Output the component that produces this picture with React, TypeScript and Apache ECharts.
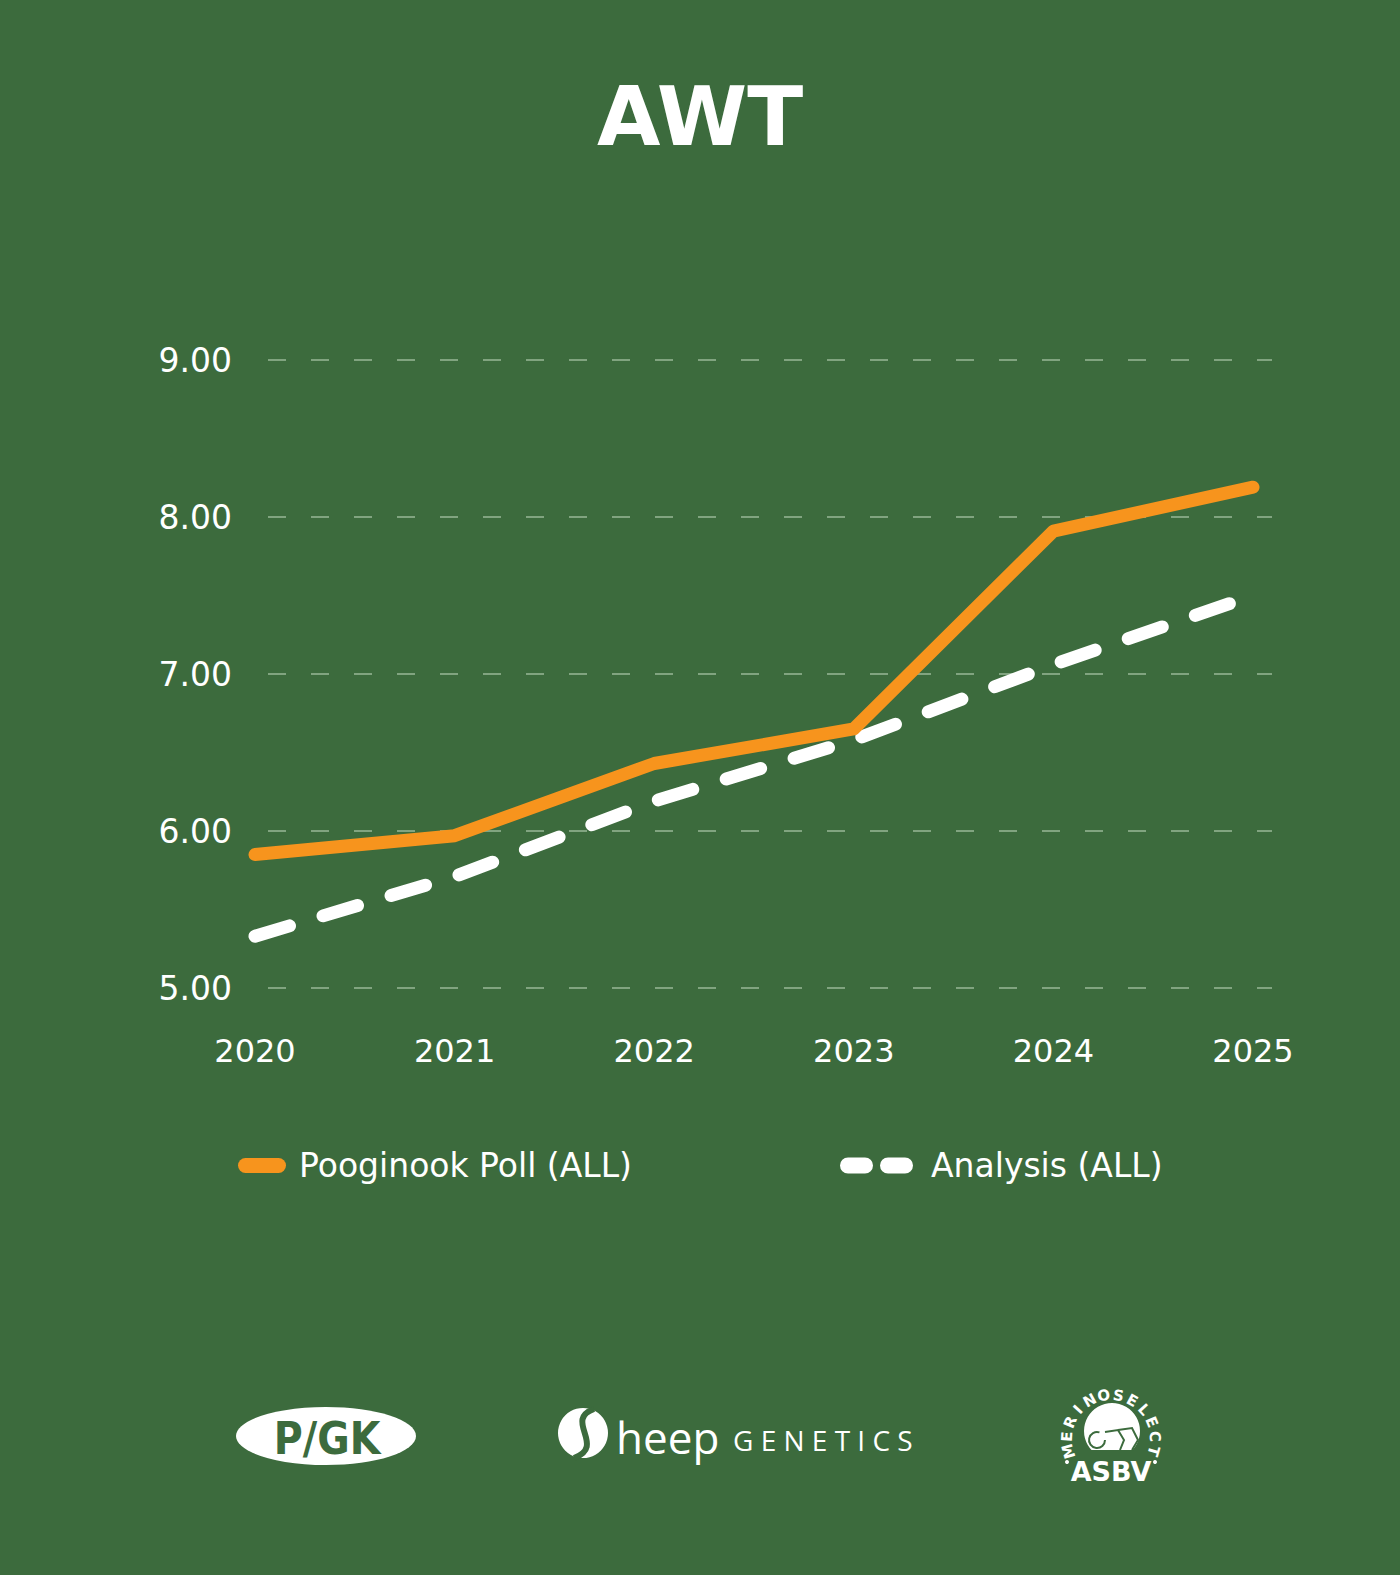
import React, { useEffect, useRef } from 'react';
import * as echarts from 'echarts';

const years = ['2020', '2021', '2022', '2023', '2024', '2025'];
const pooginookValues = [5.85, 5.97, 6.43, 6.65, 7.91, 8.19];
const analysisValues = [5.33, 5.71, 6.19, 6.58, 7.06, 7.5];
const yTicks = [5, 6, 7, 8, 9];

const BG = '#3c6b3d';
const ORANGE = '#f7941d';
const FONT = '"DejaVu Sans", "Noto Sans", sans-serif';

// letters of the round badge text
const badgeLetters = 'MERINOSELECT'.split('');

const App: React.FC = () => {
  const chartRef = useRef<HTMLDivElement>(null);

  useEffect(() => {
    document.body.style.margin = '0';
    document.body.style.background = BG;
    if (!chartRef.current) return;
    const chart = echarts.init(chartRef.current, undefined, { renderer: 'svg' });

    // badge letters around an arc
    const cx = 1111;
    const cy = 1439;
    const r = 44;
    const startA = 196;
    const endA = -16;
    const badge = badgeLetters.map((ch, i) => {
      const a = startA + ((endA - startA) * i) / (badgeLetters.length - 1);
      const rad = (a * Math.PI) / 180;
      return {
        type: 'text',
        x: cx + r * Math.cos(rad),
        y: cy - r * Math.sin(rad),
        rotation: ((a - 90) * Math.PI) / 180,
        style: {
          text: ch,
          fill: '#fff',
          font: 'bold 15px "DejaVu Sans", sans-serif',
          align: 'center',
          verticalAlign: 'middle',
        },
      };
    });

    const option: echarts.EChartsOption = {
      animation: false,
      backgroundColor: BG,
      title: {
        text: 'AWT',
        left: 'center',
        top: 70,
        textStyle: {
          color: '#fff',
          fontSize: 82,
          fontWeight: 'bold',
          fontFamily: '"DejaVu Sans", sans-serif',
        },
      },
      grid: [
        { left: 255, right: 147, top: 360, bottom: 587 },
        // grid that only carries the dashed guide lines
        { left: 268, right: 128, top: 360, bottom: 587 },
      ],
      legend: [
        {
          left: 233,
          top: 1144,
          itemWidth: 48,
          itemHeight: 15,
          icon: 'path://M7.5,0 H40.5 A7.5,7.5 0 0 1 40.5,15 H7.5 A7.5,7.5 0 0 1 7.5,0 Z',
          itemStyle: { borderWidth: 0 },
          data: ['Pooginook Poll (ALL)'],
          textStyle: {
            color: '#fff',
            fontSize: 33,
            fontFamily: FONT,
            padding: [0, 0, 0, 8],
          },
        },
        {
          left: 835,
          top: 1144,
          itemWidth: 73,
          itemHeight: 16,
          itemStyle: { borderWidth: 0 },
          data: [
            {
              name: 'Analysis (ALL)',
              icon: 'path://M8,0 H25 A8,8 0 0 1 25,16 H8 A8,8 0 0 1 8,0 Z M48,0 H65 A8,8 0 0 1 65,16 H48 A8,8 0 0 1 48,0 Z',
            },
          ],
          textStyle: {
            color: '#fff',
            fontSize: 33,
            fontFamily: FONT,
            padding: [0, 0, 0, 13],
          },
        },
      ],
      xAxis: [
        {
          type: 'category',
          data: years,
          boundaryGap: false,
          axisLine: { show: false },
          axisTick: { show: false },
          axisLabel: {
            color: '#fff',
            fontSize: 32,
            fontFamily: FONT,
            margin: 47,
          },
        },
        { type: 'category', gridIndex: 1, data: years, show: false },
      ],
      yAxis: [
        {
          type: 'value',
          min: yTicks[0],
          max: yTicks[yTicks.length - 1],
          interval: 1,
          axisLine: { show: false },
          axisTick: { show: false },
          axisLabel: {
            color: '#fff',
            fontSize: 33,
            fontFamily: FONT,
            margin: 23,
            formatter: (v: number) => v.toFixed(2),
          },
          splitLine: { show: false },
        },
        {
          type: 'value',
          gridIndex: 1,
          min: yTicks[0],
          max: yTicks[yTicks.length - 1],
          interval: 1,
          axisLine: { show: false },
          axisTick: { show: false },
          axisLabel: { show: false },
          splitLine: {
            lineStyle: {
              color: 'rgba(230,245,225,0.55)',
              width: 1.5,
              type: [18, 25],
            },
          },
        },
      ],
      series: [
        {
          name: 'Analysis (ALL)',
          type: 'line',
          data: analysisValues,
          symbol: 'none',
          color: '#fff',
          lineStyle: {
            color: '#fff',
            width: 13,
            type: [36, 35],
            cap: 'round',
            join: 'round',
          },
          z: 2,
        },
        {
          name: 'Pooginook Poll (ALL)',
          type: 'line',
          data: pooginookValues,
          symbol: 'none',
          color: ORANGE,
          lineStyle: {
            color: ORANGE,
            width: 13,
            cap: 'round',
            join: 'round',
          },
          z: 3,
        },
      ],
      graphic: [
        // P/GK logo
        {
          type: 'ellipse',
          shape: { cx: 326, cy: 1436, rx: 90, ry: 29 },
          style: { fill: '#fff' },
        },
        {
          type: 'text',
          x: 327,
          y: 1438,
          style: {
            text: 'P/GK',
            fill: BG,
            font: 'bold 44px "Liberation Sans Narrow", "DejaVu Sans Condensed", "Noto Sans", sans-serif',
            align: 'center',
            verticalAlign: 'middle',
          },
        },
        // Sheep Genetics logo
        {
          type: 'circle',
          shape: { cx: 583, cy: 1433, r: 25 },
          style: { fill: '#fff' },
        },
        {
          type: 'bezierCurve',
          shape: { x1: 594, y1: 1409, cpx1: 563, cpy1: 1420, cpx2: 607, cpy2: 1446, x2: 574, y2: 1458 },
          style: { stroke: BG, lineWidth: 6, fill: 'none' },
        },
        {
          type: 'text',
          x: 616,
          y: 1437,
          style: {
            text: 'heep',
            fill: '#fff',
            font: '44px "Open Sans", sans-serif',
            verticalAlign: 'middle',
          },
        },
        {
          type: 'text',
          x: 733,
          y: 1440,
          style: {
            text: 'G E N E T I C S',
            fill: '#fff',
            font: '28px "Open Sans", sans-serif',
            verticalAlign: 'middle',
          },
        },
        // MerinoSelect badge
        {
          type: 'circle',
          shape: { cx: 1112, cy: 1431, r: 28 },
          style: { fill: '#fff' },
        },
        {
          type: 'rect',
          shape: { x: 1082, y: 1450, width: 60, height: 12 },
          style: { fill: BG },
        },
        {
          type: 'arc',
          shape: { cx: 1097, cy: 1440, r: 8, startAngle: 0, endAngle: Math.PI * 1.6 },
          style: { fill: 'none', stroke: BG, lineWidth: 2 },
        },
        {
          type: 'polyline',
          shape: { points: [[1105, 1432], [1118, 1430], [1124, 1440], [1120, 1450]] },
          style: { fill: 'none', stroke: BG, lineWidth: 2 },
        },
        {
          type: 'polyline',
          shape: { points: [[1118, 1430], [1132, 1428], [1138, 1440], [1132, 1450]] },
          style: { fill: 'none', stroke: BG, lineWidth: 2 },
        },
        ...badge,
        {
          type: 'circle',
          shape: { cx: 1067, cy: 1462, r: 2 },
          style: { fill: '#fff' },
        },
        {
          type: 'circle',
          shape: { cx: 1155, cy: 1462, r: 2 },
          style: { fill: '#fff' },
        },
        {
          type: 'text',
          x: 1111,
          y: 1471,
          style: {
            text: 'ASBV',
            fill: '#fff',
            font: 'bold 27px "DejaVu Sans", sans-serif',
            align: 'center',
            verticalAlign: 'middle',
          },
        },
      ] as any,
    };

    chart.setOption(option);

    return () => {
      chart.dispose();
    };
  }, []);

  return <div ref={chartRef} style={{ width: 1400, height: 1575 }} />;
};

export default App;
